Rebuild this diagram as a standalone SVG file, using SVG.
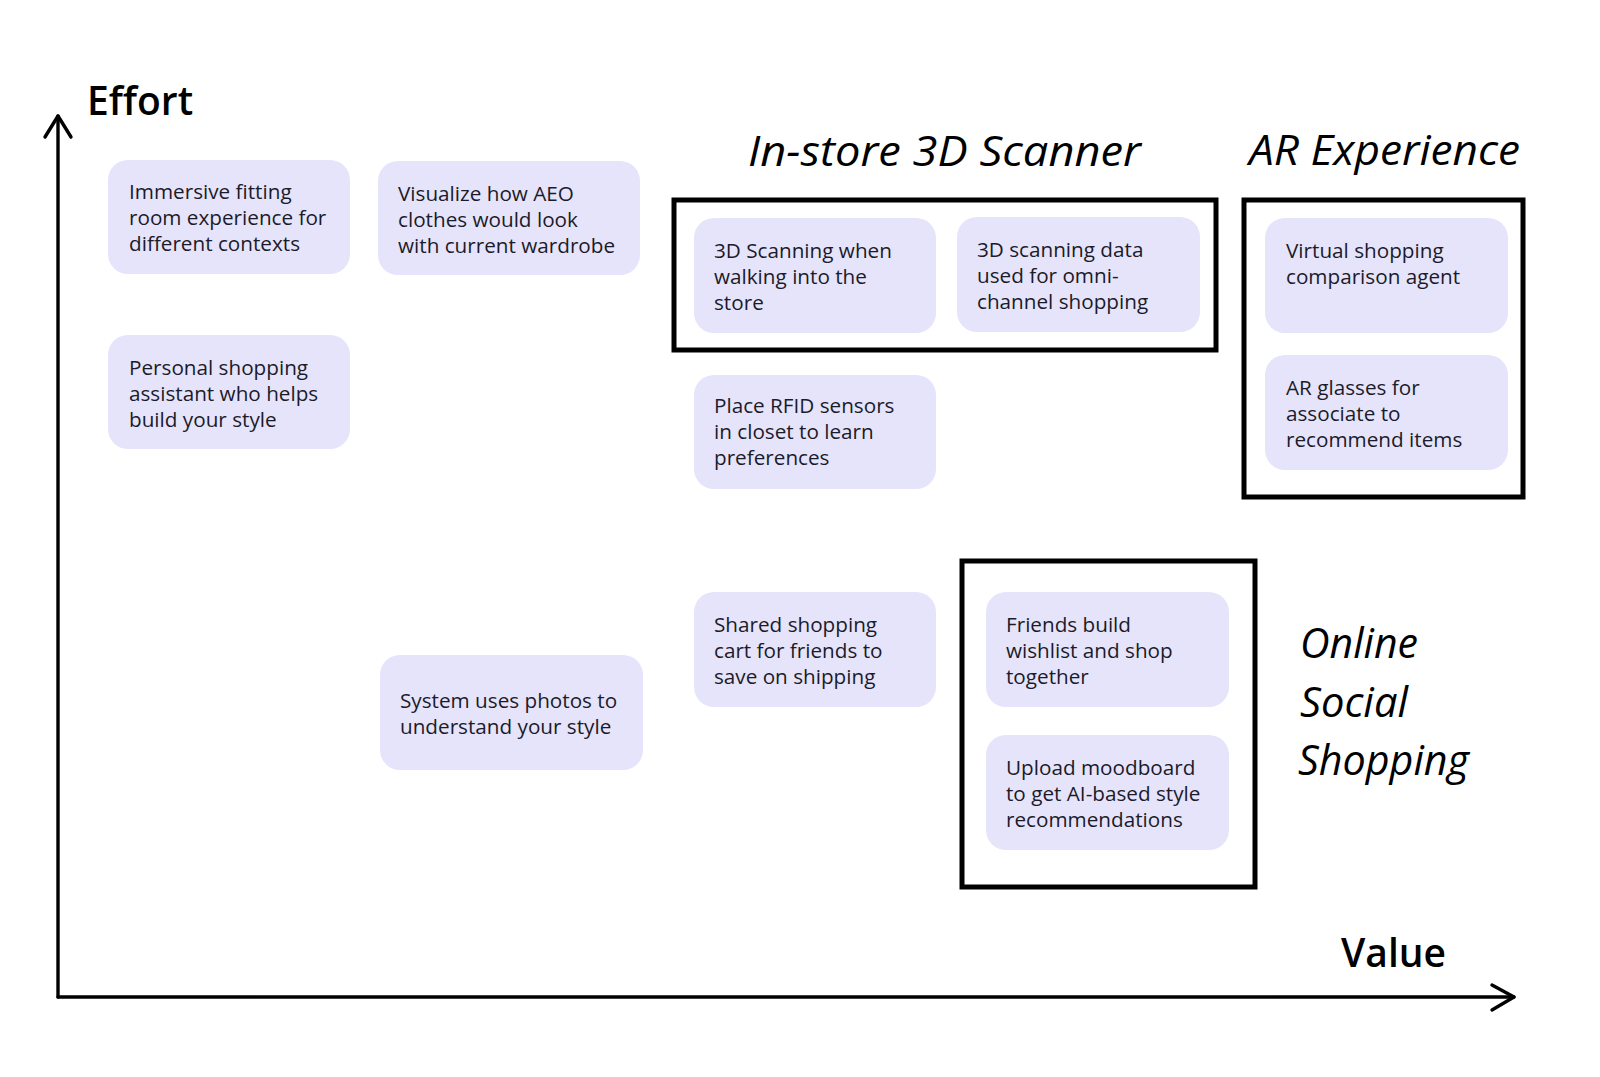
<svg xmlns="http://www.w3.org/2000/svg" width="1600" height="1077" viewBox="0 0 1600 1077">
<style>
.node{fill:#e6e4fb;}
.t{font-family:"Open Sans","Noto Sans",sans-serif;font-size:20.7px;fill:#1b1b2a;}
.frame{fill:none;stroke:#000;stroke-width:5;}
.hand{font-family:"Open Sans","DejaVu Sans",sans-serif;font-style:italic;font-weight:400;font-size:42px;fill:#000;}
.axlab{font-family:"Open Sans","Noto Sans",sans-serif;font-weight:600;font-size:39px;fill:#000;}
.ax{stroke:#000;stroke-width:3.4;fill:none;stroke-linecap:round;stroke-linejoin:round;}
</style>
<rect width="1600" height="1077" fill="#fff"/>
<g id="connectors">
<path class="ax" d="M58,997 V116"/>
<path class="ax" d="M45,137 L58,116 L71,137"/>
<path class="ax" d="M58,997 H1514"/>
<path class="ax" d="M1492,985 L1514,997 L1492,1010"/>
</g>
<g id="axis-labels">
<text class="axlab" x="87" y="115">Effort</text>
<text class="axlab" x="1341" y="967">Value</text>
</g>
<g id="group-instore">
<rect class="frame" x="674" y="200" width="542" height="150"/>
<text class="hand" x="748" y="166" textLength="393" lengthAdjust="spacingAndGlyphs">In-store 3D Scanner</text>
</g>
<g id="group-ar">
<rect class="frame" x="1244" y="200" width="279" height="297"/>
<text class="hand" x="1249" y="165" textLength="271" lengthAdjust="spacingAndGlyphs">AR Experience</text>
</g>
<g id="group-social">
<rect class="frame" x="962" y="561" width="293" height="326"/>
<text class="hand" x="1300" y="658" textLength="118" lengthAdjust="spacingAndGlyphs">Online</text>
<text class="hand" x="1300" y="717" textLength="108" lengthAdjust="spacingAndGlyphs">Social</text>
<text class="hand" x="1298" y="775" textLength="171" lengthAdjust="spacingAndGlyphs">Shopping</text>
</g>
<g id="node-immersive">
<rect class="node" x="108" y="160" width="242" height="114" rx="20"/>
<text class="t" x="129" y="199">Immersive fitting</text>
<text class="t" x="129" y="225">room experience for</text>
<text class="t" x="129" y="251">different contexts</text>
</g>
<g id="node-visualize">
<rect class="node" x="378" y="161" width="262" height="114" rx="20"/>
<text class="t" x="398" y="201">Visualize how AEO</text>
<text class="t" x="398" y="227">clothes would look</text>
<text class="t" x="398" y="253">with current wardrobe</text>
</g>
<g id="node-personal">
<rect class="node" x="108" y="335" width="242" height="114" rx="20"/>
<text class="t" x="129" y="375">Personal shopping</text>
<text class="t" x="129" y="401">assistant who helps</text>
<text class="t" x="129" y="427">build your style</text>
</g>
<g id="node-photos">
<rect class="node" x="380" y="655" width="263" height="115" rx="20"/>
<text class="t" x="400" y="708">System uses photos to</text>
<text class="t" x="400" y="734">understand your style</text>
</g>
<g id="node-3dscan-walk">
<rect class="node" x="694" y="218" width="242" height="115" rx="20"/>
<text class="t" x="714" y="258">3D Scanning when</text>
<text class="t" x="714" y="284">walking into the</text>
<text class="t" x="714" y="310">store</text>
</g>
<g id="node-3dscan-data">
<rect class="node" x="957" y="217" width="243" height="115" rx="20"/>
<text class="t" x="977" y="257">3D scanning data</text>
<text class="t" x="977" y="283">used for omni-</text>
<text class="t" x="977" y="309">channel shopping</text>
</g>
<g id="node-rfid">
<rect class="node" x="694" y="375" width="242" height="114" rx="20"/>
<text class="t" x="714" y="413">Place RFID sensors</text>
<text class="t" x="714" y="439">in closet to learn</text>
<text class="t" x="714" y="465">preferences</text>
</g>
<g id="node-shared-cart">
<rect class="node" x="694" y="592" width="242" height="115" rx="20"/>
<text class="t" x="714" y="632">Shared shopping</text>
<text class="t" x="714" y="658">cart for friends to</text>
<text class="t" x="714" y="684">save on shipping</text>
</g>
<g id="node-virtual-agent">
<rect class="node" x="1265" y="218" width="243" height="115" rx="20"/>
<text class="t" x="1286" y="258">Virtual shopping</text>
<text class="t" x="1286" y="284">comparison agent</text>
</g>
<g id="node-ar-glasses">
<rect class="node" x="1265" y="355" width="243" height="115" rx="20"/>
<text class="t" x="1286" y="395">AR glasses for</text>
<text class="t" x="1286" y="421">associate to</text>
<text class="t" x="1286" y="447">recommend items</text>
</g>
<g id="node-friends-wishlist">
<rect class="node" x="986" y="592" width="243" height="115" rx="20"/>
<text class="t" x="1006" y="632">Friends build</text>
<text class="t" x="1006" y="658">wishlist and shop</text>
<text class="t" x="1006" y="684">together</text>
</g>
<g id="node-moodboard">
<rect class="node" x="986" y="735" width="243" height="115" rx="20"/>
<text class="t" x="1006" y="775">Upload moodboard</text>
<text class="t" x="1006" y="801">to get AI-based style</text>
<text class="t" x="1006" y="827">recommendations</text>
</g>
</svg>
